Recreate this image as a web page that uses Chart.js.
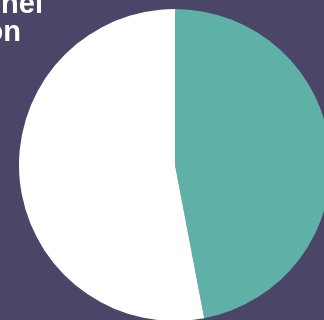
<!DOCTYPE html>
<html>
<head>
<meta charset="utf-8">
<script src="https://cdn.jsdelivr.net/npm/chart.js@4"></script>
<style>
    html, body {
        margin: 0;
        padding: 0;
        width: 324px;
        height: 320px;
        overflow: hidden;
        background: #4b4567;
        position: relative;
    }
    .title-line {
        position: absolute;
        color: #ffffff;
        font-family: 'Liberation Sans Narrow', 'Liberation Sans', sans-serif;
        font-weight: 700;
        font-size: 29px;
        line-height: 29px;
        white-space: nowrap;
        text-align: right;
        z-index: 2;
    }
    #title-1 { right: 281px; top: -11px; }
    #title-2 { right: 303px; top: 17px; }
    #pie-wrap {
        position: absolute;
        left: 19px;
        top: 9px;
        width: 312px;
        height: 312px;
    }
</style>
</head>
<body>
<div class="title-line" id="title-1">Sales by Channel</div>
<div class="title-line" id="title-2">Distribution</div>
<div id="pie-wrap"><canvas id="pie-canvas"></canvas></div>
<script>
// Share per channel
const labels = ['Online', 'Retail'];
const shares = [47, 53];
const colors = ['#5fb0a7', '#ffffff'];

const canvas = document.querySelector('#pie-canvas');

new Chart(canvas.getContext('2d'), {
    type: 'pie',
    data: {
        labels: labels,
        datasets: [{
            data: shares,
            backgroundColor: colors,
            borderWidth: 0
        }]
    },
    options: {
        responsive: true,
        maintainAspectRatio: false,
        animation: false,
        layout: { padding: 0 },
        plugins: {
            legend: { display: false },
            tooltip: { enabled: false }
        }
    }
});
</script>
</body>
</html>
